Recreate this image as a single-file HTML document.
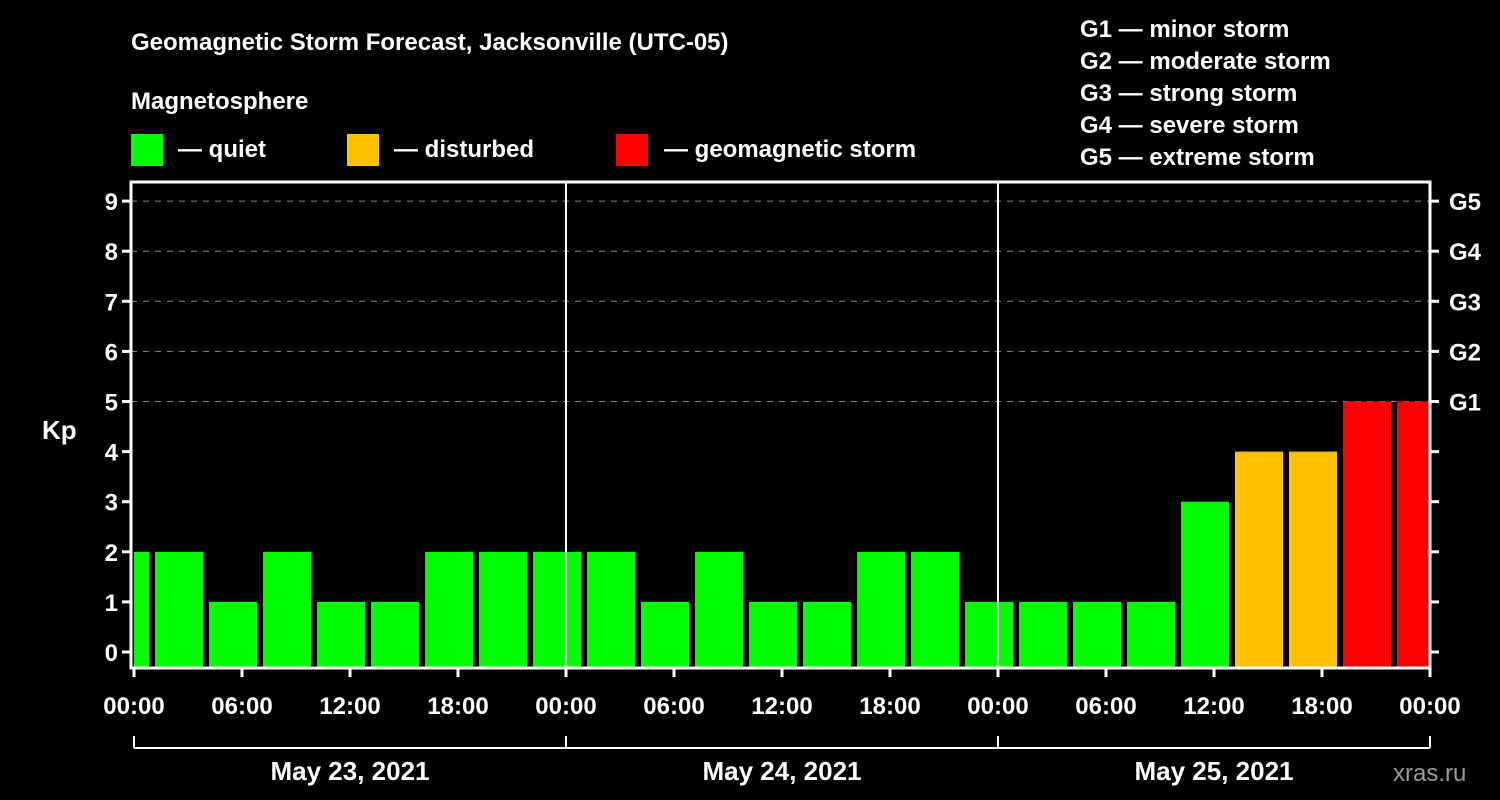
<!DOCTYPE html>
<html><head><meta charset="utf-8"><style>
body{margin:0;background:#000;width:1500px;height:800px;overflow:hidden}
svg{display:block}
text{font-family:"Liberation Sans",Arial,sans-serif;font-weight:bold;fill:#fff}
</style></head><body>
<svg id="c" width="1500" height="800">
<text x="131" y="50" font-size="24">Geomagnetic Storm Forecast, Jacksonville (UTC-05)</text>
<text x="131" y="109" font-size="24">Magnetosphere</text>
<g><rect x="131" y="134" width="32" height="32" fill="#00ff00"/><text x="178" y="157" font-size="24">— quiet</text></g>
<g><rect x="347" y="134" width="32" height="32" fill="#ffc000"/><text x="394" y="157" font-size="24">— disturbed</text></g>
<g><rect x="616" y="134" width="32" height="32" fill="#ff0000"/><text x="664" y="157" font-size="24">— geomagnetic storm</text></g>
<g font-size="24">
<text x="1080" y="37">G1 — minor storm</text>
<text x="1080" y="69">G2 — moderate storm</text>
<text x="1080" y="101">G3 — strong storm</text>
<text x="1080" y="133">G4 — severe storm</text>
<text x="1080" y="165">G5 — extreme storm</text>
</g>
<text x="42" y="439" font-size="26">Kp</text>
<text x="1393" y="781" font-size="24" fill="#888" style="fill:#9a9a9a;font-weight:normal">xras.ru</text>
<g id="plot"></g>
</svg>
<script>
const kpValues=[2,2,1,2,1,1,2,2,2,2,1,2,1,1,2,2,1,1,1,1,3,4,4,5,5];
const startHour=-2; // local hour of first 3h bin start
const yTicks=[0,1,2,3,4,5,6,7,8,9];
const gLabels=["","","","","","G1","G2","G3","G4","G5"];
const xTickLabels=["00:00","06:00","12:00","18:00","00:00","06:00","12:00","18:00","00:00","06:00","12:00","18:00","00:00"];
const dayLabels=["May 23, 2021","May 24, 2021","May 25, 2021"];
const L=131,R=1430,T=182,B=668,x0=134,pxH=18;
const X=h=>x0+h*pxH;
const Y=v=>652-v*50.1;
const NS="http://www.w3.org/2000/svg";
const g=document.getElementById('plot');
function mk(t,a,p){const e=document.createElementNS(NS,t);for(const k in a)e.setAttribute(k,a[k]);(p||g).appendChild(e);return e;}
// grid
yTicks.forEach(v=>{if(v>=5){const l=mk('line',{x1:L,x2:R,y1:Y(v),y2:Y(v),stroke:'#888','stroke-dasharray':'6,6','stroke-width':1});

}});
// bars
kpValues.forEach((v,i)=>{
 let a=X(startHour+i*3)+3,b=X(startHour+i*3+3)-3;
 a=Math.max(a,L+3);b=Math.min(b,R);
 const col=v>=5?'#ff0000':(v>=4?'#ffc000':'#00ff00');
 const r=mk('rect',{x:a,y:Y(v),width:b-a,height:B-Y(v),fill:col});
 
 
});
// day separators
[1,2].forEach(d=>{const l=mk('line',{x1:X(d*24),x2:X(d*24),y1:T,y2:B,stroke:'#fff','stroke-width':2});

});
// frame
const f=mk('rect',{x:L,y:T,width:R-L,height:B-T,fill:'none',stroke:'#fff','stroke-width':3});


// y ticks
yTicks.forEach(v=>{
 mk('line',{x1:L-9,x2:L,y1:Y(v),y2:Y(v),stroke:'#fff','stroke-width':3});
 mk('line',{x1:R,x2:R+9,y1:Y(v),y2:Y(v),stroke:'#fff','stroke-width':3});
 const t=mk('text',{x:L-13,y:Y(v)+9,'font-size':24,'text-anchor':'end'});t.textContent=v;
 
 
 if(gLabels[v]){const s=mk('text',{x:R+19,y:Y(v)+9,'font-size':24});s.textContent=gLabels[v];
 
 }
});
// x ticks
xTickLabels.forEach((lab,i)=>{
 const x=X(i*6);
 mk('line',{x1:x,x2:x,y1:B,y2:B+9,stroke:'#fff','stroke-width':3});
 const t=mk('text',{x:x,y:714,'font-size':24,'text-anchor':'middle'});t.textContent=lab;
 
 
});
// date bracket
mk('line',{x1:X(0),x2:X(72),y1:748,y2:748,stroke:'#fff','stroke-width':2});
[0,1,2,3].forEach(d=>mk('line',{x1:X(d*24),x2:X(d*24),y1:736,y2:748,stroke:'#fff','stroke-width':2}));
dayLabels.forEach((lab,i)=>{const t=mk('text',{x:X(i*24+12),y:780,'font-size':26,'text-anchor':'middle'});t.textContent=lab;

});
</script>
</body></html>
